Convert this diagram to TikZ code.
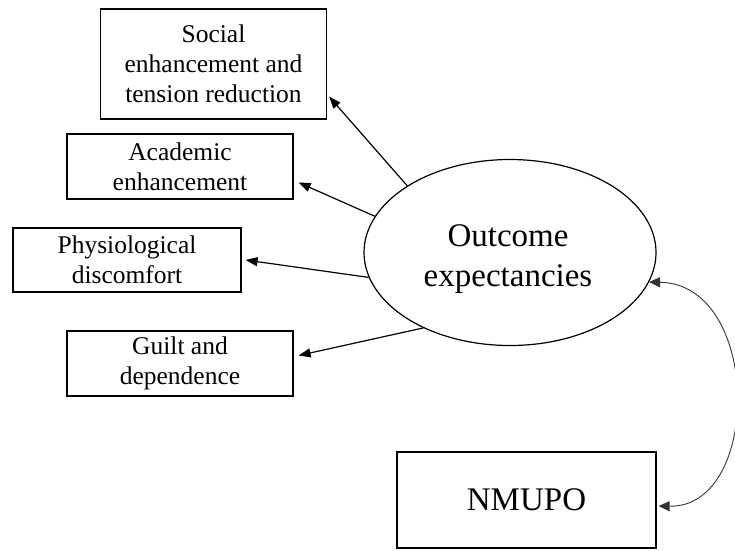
\documentclass[tikz,border=0pt]{standalone}
\usepackage{fontspec}
\setmainfont{Liberation Serif}
\usetikzlibrary{arrows.meta,calc,shapes.geometric}
\begin{document}
\begin{tikzpicture}[x=1pt,y=-1pt,
  box/.style={draw,line width=1.2pt,rectangle,align=center,inner sep=0pt,
    font=\fontsize{25.5}{30}\selectfont},
  big/.style={font=\fontsize{33}{40}\selectfont,align=center,inner sep=0pt},
  arr/.style={line width=1.2pt,-{Triangle[length=12pt,width=9pt]}},
  carr/.style={line width=0.9pt,draw=black!80,{Triangle[length=11pt,width=10pt]}-{Triangle[length=11pt,width=10pt]}}]
\useasboundingbox (0,0) rectangle (735,550);
\node[box,minimum width=226pt,minimum height=110pt] (b1) at (213.5,64) {Social\\enhancement and\\tension reduction};
\node[box,minimum width=226pt,minimum height=65pt] (b2) at (180,166.5) {Academic\\enhancement};
\node[box,minimum width=228pt,minimum height=64pt] (b3) at (127,260) {Physiological\\discomfort};
\node[box,minimum width=226pt,minimum height=65pt] (b4) at (180,363.5) {Guilt and\\dependence};
\node[draw,ellipse,line width=1.2pt,minimum width=292pt,minimum height=186pt] (oe) at (510,252.5) {};
\node[big] (oet) at (508,259) {Outcome\\expectancies};
\node[box,font=\fontsize{33}{40}\selectfont,minimum width=259pt,minimum height=96pt] (nm) at (526.5,500) {NMUPO};
\coordinate (t1) at ($(b1.south east)+(2,-23)$);
\coordinate (t2) at ($(b2.east)+(5,16)$);
\coordinate (t3) at ($(b3.east)+(4,0)$);
\coordinate (t4) at ($(b4.east)+(5,-8)$);
\draw[arr] (oe.147.5) -- (t1);
\draw[arr] (oe.165.7) -- (t2);
\draw[arr] (oe.190.3) -- (t3);
\draw[arr] (oe.221.9) -- (t4);
\coordinate (c1) at ($(nm.east)+(2,6)$);
\draw[carr] (oe.-12) .. controls (762,284) and (762,508) .. (c1);
\end{tikzpicture}
\end{document}
